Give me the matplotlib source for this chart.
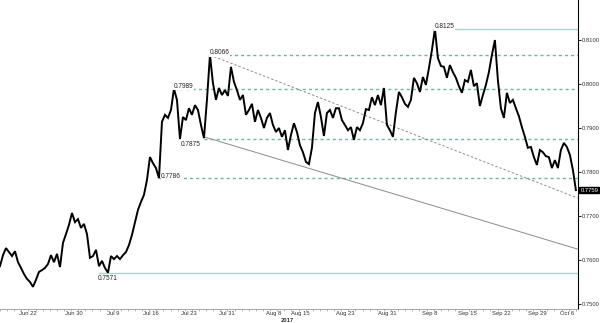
import matplotlib
matplotlib.use('Agg')
import matplotlib.pyplot as plt
from matplotlib.ticker import FixedLocator, MultipleLocator

# price series, one sample every ~10 trading hours
price = [
    0.7586, 0.7611, 0.7627, 0.7618, 0.7609, 0.7620, 0.7595, 0.7582, 0.7568, 0.7557,
    0.7550, 0.7539, 0.7555, 0.7573, 0.7577, 0.7582, 0.7591, 0.7611, 0.7595, 0.7614,
    0.7584, 0.7639, 0.7659, 0.7680, 0.7707, 0.7686, 0.7693, 0.7673, 0.7682, 0.7659,
    0.7605, 0.7609, 0.7623, 0.7586, 0.7598, 0.7582, 0.7571, 0.7609, 0.7602, 0.7609,
    0.7602, 0.7611, 0.7618, 0.7634, 0.7657, 0.7686, 0.7714, 0.7732, 0.7748, 0.7782,
    0.7834, 0.7820, 0.7809, 0.7786, 0.7914, 0.7930, 0.7923, 0.7941, 0.7989, 0.7964,
    0.7875, 0.7925, 0.7918, 0.7945, 0.7930, 0.7952, 0.7941, 0.7907, 0.7877, 0.7964,
    0.8066, 0.8002, 0.7964, 0.7991, 0.7975, 0.7986, 0.7973, 0.8039, 0.8005, 0.7986,
    0.7964, 0.7975, 0.7930, 0.7941, 0.7955, 0.7914, 0.7941, 0.7923, 0.7900, 0.7923,
    0.7934, 0.7907, 0.7891, 0.7900, 0.7880, 0.7895, 0.7850, 0.7884, 0.7911, 0.7891,
    0.7861, 0.7845, 0.7823, 0.7818, 0.7855, 0.7934, 0.7959, 0.7925, 0.7882, 0.7934,
    0.7941, 0.7923, 0.7945, 0.7945, 0.7918, 0.7907, 0.7895, 0.7902, 0.7873, 0.7902,
    0.7895, 0.7911, 0.7943, 0.7941, 0.7970, 0.7952, 0.7975, 0.7952, 0.7991, 0.7907,
    0.7895, 0.7880, 0.7936, 0.7982, 0.7970, 0.7955, 0.7948, 0.7964, 0.8014, 0.8002,
    0.7982, 0.8016, 0.7998, 0.8036, 0.8077, 0.8125, 0.8059, 0.8041, 0.8039, 0.8014,
    0.8043, 0.8027, 0.8014, 0.7995, 0.7980, 0.8009, 0.8005, 0.8032, 0.7995, 0.8002,
    0.7950, 0.7975, 0.7998, 0.8027, 0.8066, 0.8100, 0.8009, 0.7945, 0.7923, 0.7980,
    0.7957, 0.7964, 0.7945, 0.7927, 0.7902, 0.7880, 0.7855, 0.7857, 0.7834, 0.7816,
    0.7850, 0.7845, 0.7836, 0.7834, 0.7809, 0.7827, 0.7809, 0.7850, 0.7866, 0.7857,
    0.7839, 0.7805, 0.7759,
]

date_pos = [9.3, 24.7, 37.7, 50.3, 63, 75.7, 91.3, 100, 115, 129, 143.3, 155.7, 167.3, 179, 189]
date_labels = ['Jun 22', 'Jun 30', 'Jul 9', 'Jul 16', 'Jul 23', 'Jul 31', 'Aug 8', 'Aug 15',
               'Aug 23', 'Aug 31', 'Sep 8', 'Sep 15', 'Sep 22', 'Sep 29', 'Oct 6']
price_ticks = [0.75, 0.76, 0.77, 0.78, 0.79, 0.80, 0.81]

# support / resistance levels (start sample -> right edge)
dashed_levels = [0.8066, 0.7989, 0.7875, 0.7786]
dashed_start = [70, 58, 68, 53]
solid_levels = [0.8125, 0.7571]
solid_start = [145, 33]

# trend lines: sample positions and values
upper_x, upper_y = [70, 192.5], [0.8066, 0.7741]
lower_x, lower_y = [68, 192.5], [0.7880, 0.7625]

# labelled turning points: sample, placement
marks = [(70, 'above'), (58, 'above'), (145, 'above'), (60, 'below'), (53, 'right'), (36, 'under')]

XMAX = 192.7
FONT = 'Liberation Sans'

fig = plt.figure(figsize=(6, 3.23), dpi=100)
ax = fig.add_axes([0, 0.0433, 0.9633, 0.9567])
ax.set_xlim(0, XMAX)
ax.set_ylim(0.74886, 0.8191)

teal_d = '#6db5a6'
teal_s = '#a6d6cc'
for lv, st in zip(dashed_levels, dashed_start):
    ax.plot([st, XMAX], [lv, lv], color=teal_d, lw=1.0, dashes=(2.2, 2.2), zorder=1)
for lv, st in zip(solid_levels, solid_start):
    ax.plot([st, XMAX], [lv, lv], color=teal_s, lw=1.0, zorder=1)

ax.plot(upper_x, upper_y, color='#8c8c8c', lw=0.7, dashes=(2.5, 2), zorder=1)
ax.plot(lower_x, lower_y, color='#8c8c8c', lw=0.7, zorder=1)

ax.plot(range(len(price)), price, color='black', lw=1.4, zorder=3, solid_joinstyle='miter')

box = dict(boxstyle='square,pad=0.08', fc='white', ec='none')
for i, where in marks:
    txt = f'{price[i]:.4f}'
    if where == 'above':
        ax.annotate(txt, (i, price[i]), xytext=(0, 1.8), textcoords='offset points',
                    ha='left', va='center', fontsize=4.7, family=FONT, color='#222222',
                    bbox=box, zorder=4)
    elif where == 'below':
        ax.annotate(txt, (i, price[i]), xytext=(0.5, -1.5), textcoords='offset points',
                    ha='left', va='top', fontsize=4.7, family=FONT, color='#222222', zorder=4)
    elif where == 'right':
        ax.annotate(txt, (i, price[i]), xytext=(1.5, 1.5), textcoords='offset points',
                    ha='left', va='center', fontsize=4.7, family=FONT, color='#222222',
                    bbox=box, zorder=4)
    else:
        ax.annotate(txt, (i, price[i]), xytext=(0, -1.5), textcoords='offset points',
                    ha='center', va='top', fontsize=4.7, family=FONT, color='#222222', zorder=4)

# axes styling
for s in ['top', 'left']:
    ax.spines[s].set_visible(False)
ax.spines['right'].set_color('black')
ax.spines['right'].set_linewidth(0.8)
ax.spines['bottom'].set_color('#9a9a9a')
ax.spines['bottom'].set_linewidth(0.6)

ax.yaxis.tick_right()
ax.set_yticks(price_ticks)
ax.set_yticklabels([f'{t:.4f}' for t in price_ticks], family=FONT, fontsize=4.2, color='#333333')
ax.tick_params(axis='y', direction='out', length=2.5, width=0.6, pad=0.5, colors='black')
for lbl in ax.get_yticklabels():
    lbl.set_color('#333333')

ax.xaxis.set_major_locator(FixedLocator(date_pos))
ax.set_xticklabels(date_labels, family=FONT, fontsize=4.2, color='#333333')
ax.xaxis.set_minor_locator(MultipleLocator(2.37))
ax.tick_params(axis='x', which='major', length=0, pad=1.5)
ax.tick_params(axis='x', which='minor', direction='out', length=1.5, width=0.5, color='#9a9a9a')

fig.text(287 / 600, 1 - 320 / 323, '2017', ha='center', va='center', fontsize=4.2,
         family=FONT, color='#333333', fontweight='bold')

# last price tag
ax.annotate(f'{price[-1]:.4f}', xy=(1.004, price[-1]), xycoords=('axes fraction', 'data'),
            ha='left', va='center', fontsize=4.2, family=FONT, color='white',
            bbox=dict(boxstyle='square,pad=0.15', fc='black', ec='black'), annotation_clip=False,
            zorder=5)

fig.savefig('out.png', dpi=100)
